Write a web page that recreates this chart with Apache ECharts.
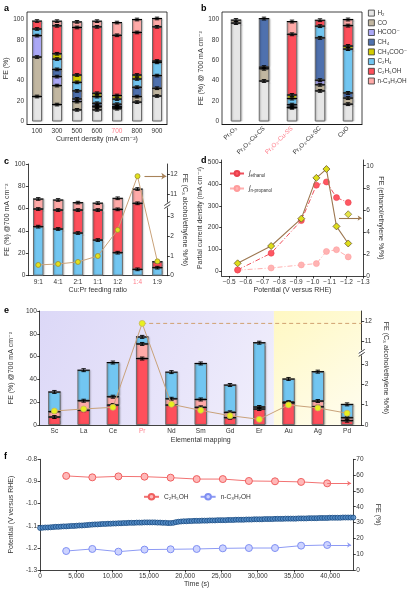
<!DOCTYPE html>
<html>
<head>
<meta charset="utf-8">
<script src="https://cdn.jsdelivr.net/npm/echarts@6.0.0/dist/echarts.min.js"></script>
<style>html,body{margin:0;padding:0;background:#fff;}#chart{width:408px;height:589px;}</style>
</head>
<body>
<div id="chart"></div>
<script>
// ===================== DATA =====================
const LEGEND_ORDER = ['H₂','CO','HCOO⁻','CH₄','CH₃COO⁻','C₂H₄','C₂H₅OH','n-C₃H₇OH'];
const STACK_ORDER  = ['H₂','CO','HCOO⁻','CH₄','C₂H₄','CH₃COO⁻','C₂H₅OH','n-C₃H₇OH'];

// panel a : FE vs current density
const aCats    = ['100','300','500','600','700','800','900'];
const aH2      = [24.5,16.6,11.4,11.4,12.5,19.0,25.0];
const aCO      = [38.7,18.6, 8.1, 2.9, 1.5, 5.4, 7.6];
const aHCOO    = [21.0, 8.8, 2.6, 0.8, 0.5, 0,   0  ];
const aCH4     = [0,    7.1, 7.9, 2.8, 2.5, 9.2,12.4];
const aC2H4    = [6.5, 10.1, 8.4, 6.5, 5.0, 8.1,13.0];
const aCH3COO  = [0,    5.2, 7.2, 3.3, 3.5, 3.9, 1.3];
const aEtOH    = [7.8, 27.4,46.6,65.1,59.0,41.7,33.5];
const aPrOH    = [0,    4.6, 5.5, 5.6,12.5,12.7, 8.2];
const aErr     = 1.3;

// panel b : catalysts @700 mA cm-2
const bCats    = ['Pr₂O₃','Pr₂O₃-Cu-CS','Pr₂O₃-Cu-SS','Pr₂O₃-Cu-SC','CuO'];
const bH2      = [96.5,39.7,13.5,30.0,17.0];
const bCO      = [ 3.0,12.0, 0.5, 6.0, 6.0];
const bHCOO    = [ 0,   1.6, 0,   4.5, 0  ];
const bCH4     = [ 0,  47.6, 2.5,41.5, 5.0];
const bC2H4    = [ 0,   0,   6.0,11.5,43.0];
const bCH3COO  = [ 0,   0,   3.5, 0,   3.0];
const bEtOH    = [ 0,   0,  59.5, 5.8,20.0];
const bPrOH    = [ 0,   0,  12.5, 0,   6.0];
const bErr     = 1.4;

// panel c : Cu:Pr feeding ratio
const cCats    = ['9:1','4:1','2:1','1:1','1:2','1:4','1:9'];
const cC2H4    = [43.9,41.8,38.2,31.9,20.6, 5.7, 7.2];
const cEtOH    = [15.8,17.0,20.6,26.9,38.8,59.1, 5.3];
const cPrOH    = [ 9.0, 9.0, 6.6, 6.2, 9.9,12.8, 0  ];
const cRatio   = [0.54,0.59,0.69,0.99,2.30,11.9,0.72];
const cErr     = 1.2;

// panel d : potential dependence
const dPot     = [-0.55,-0.75,-0.93,-1.02,-1.08,-1.14,-1.21];
const dJEt     = [5, 82, 232, 395, 410, 338, 315];
const dJPr     = [4, 14, 28, 34, 90, 98, 65];
const dRatio   = [1.15,2.72,5.20,8.90,9.70,4.50,2.95];

// panel e : elemental mapping
const eCats    = ['Sc','La','Ce','Pr','Nd','Sm','Gd','Er','Au','Ag','Pd'];
const eEtOH    = [ 7.0,13.0,17.5,58.3,17.5,15.5, 6.4,14.0,19.3,16.0, 3.8];
const ePrOH    = [ 4.7, 8.3, 7.3,12.8, 5.5, 6.9, 4.7, 1.8, 0.8, 5.0, 2.6];
const eC2H4    = [17.3,26.8,30.0, 6.2,23.4,31.6,24.0,56.4,20.3,25.8,11.7];
const eRatio   = [0.69,0.79,0.87,11.9,1.02,0.72,0.46,0.28,0.99,0.84,0.58];
const eErr     = 1.3;
const eRegions = [[0, 8, 'lanthanide'], [8, 11, 'noble']];

// panel f : stability
const fTimes   = [3600,7200,10800,14400,18000,21600,25200,28800,32400,36000,39600];
const fEtOH    = [59.5,58.6,59.2,59.0,58.4,57.5,57.5,56.3,56.1,55.7,54.8];
const fPrOH    = [12.0,13.3,11.6,12.9,13.1,13.3,13.7,13.9,13.9,15.4,15.8];
const fPotStep = 360;
const fPotential = [
 -1.110,-1.109,-1.108,-1.108,-1.107,-1.106,-1.105,-1.105,-1.104,-1.103,-1.103,-1.102,-1.101,-1.101,
 -1.100,-1.099,-1.099,-1.098,-1.097,-1.096,-1.095,-1.094,-1.094,-1.093,-1.092,-1.092,-1.091,-1.091,
 -1.090,-1.090,-1.089,-1.089,-1.088,-1.088,-1.087,-1.087,-1.087,-1.086,-1.086,-1.086,-1.085,-1.085,
 -1.085,-1.085,-1.085,-1.086,-1.086,-1.087,-1.087,-1.088,-1.088,-1.087,-1.084,-1.082,-1.081,-1.080,
 -1.080,-1.079,-1.079,-1.078,-1.078,-1.078,-1.077,-1.077,-1.077,-1.076,-1.076,-1.076,-1.075,-1.075,
 -1.075,-1.075,-1.074,-1.074,-1.074,-1.073,-1.073,-1.073,-1.073,-1.072,-1.072,-1.072,-1.071,-1.071,
 -1.071,-1.071,-1.070,-1.070,-1.070,-1.070,-1.069,-1.069,-1.069,-1.069,-1.068,-1.068,-1.068,-1.068,
 -1.068,-1.067,-1.067,-1.067,-1.067,-1.066,-1.066,-1.066,-1.066,-1.065,-1.065,-1.065,-1.065,-1.064,
 -1.064,-1.064,-1.064,-1.064,-1.063,-1.063,-1.063,-1.063,-1.063];

// tick labels
const pctTicks   = [0,20,40,60,80,100];
const brkTicks   = [0,1,2,3,11,12];
const dPotTicks  = [-0.5,-0.6,-0.7,-0.8,-0.9,-1.0,-1.1,-1.2,-1.3];
const dJTicks    = [0,100,200,300,400,500];
const dRTicks    = [0,2,4,6,8,10];
const fTimeTicks = [0,5000,10000,15000,20000,25000,30000,35000,40000];
const fPotTicks  = [-1.3,-1.2,-1.1,-1.0,-0.9,-0.8];

// ===================== STYLE =====================
const FONT = '"Liberation Sans", Arial, "DejaVu Sans", sans-serif';
const TXT = '#333';
const PINK_TXT = '#ff7d8a';
const COLORS = {'H₂':'#e6e6e6','CO':'#c2b7a1','HCOO⁻':'#aba8f6','CH₄':'#4f71ae','CH₃COO⁻':'#d3cc00',
  'C₂H₄':'#72c6f1','C₂H₅OH':'#fe4f5b','n-C₃H₇OH':'#ffaaa8'};

// broken right axis (0..3.x linear, then 11..12)
const BRK_LO = 3.6, BRK_SHIFT = 11 - 4.1;
const brk   = v => v <= BRK_LO ? v : v - BRK_SHIFT;
const unbrk = d => d <= BRK_LO ? d : d + BRK_SHIFT;

function merge(a, b) {
  const o = Object.assign({}, a);
  for (const k in b) {
    const v = b[k];
    if (v && typeof v === 'object' && !Array.isArray(v) && o[k] && typeof o[k] === 'object' && !Array.isArray(o[k])) o[k] = merge(o[k], v);
    else o[k] = v;
  }
  return o;
}
const AX = {
  axisLine: {onZero:false, lineStyle:{color:'#111', width:0.8}},
  axisTick: {length:2.5, lineStyle:{color:'#111', width:0.8}},
  axisLabel: {fontSize:6.5, color:TXT, fontFamily:FONT, margin:3},
  splitLine: {show:false},
  nameLocation: 'middle',
  nameTextStyle: {fontSize:7, color:TXT, fontFamily:FONT}
};
const ax = o => merge(AX, o);

function stackedBars(order, seg, xi, yi, stack, bw) {
  return order.map(n => ({
    type:'bar', name:n, stack, xAxisIndex:xi, yAxisIndex:yi, barWidth:bw, z:2,
    data: seg[n].map(v => v > 0 ? v : null),
    itemStyle:{color:COLORS[n], borderColor:'#6b6b6b', borderWidth:1,
      shadowColor:'rgba(0,0,0,0.25)', shadowBlur:1.5, shadowOffsetX:1},
    emphasis:{disabled:true}
  }));
}
function errPoints(order, seg, err) {
  const pts = [];
  const n = seg[order[0]].length;
  for (let i = 0; i < n; i++) {
    let c = 0;
    order.forEach(k => { const v = seg[k][i]; if (v > 0) { c += v; pts.push([i, c, err]); } });
  }
  return pts;
}
function errSeries(xi, yi, pts, half) {
  return {
    type:'custom', xAxisIndex:xi, yAxisIndex:yi, z:6, silent:true, encode:{x:0, y:1},
    renderItem:(p, api) => {
      const x = api.value(0), y = api.value(1), e = api.value(2);
      const c = api.coord([x, y]), lo = api.coord([x, y - e]), hi = api.coord([x, y + e]);
      const st = {stroke:'#000', lineWidth:0.9};
      return {type:'group', children:[
        {type:'line', shape:{x1:c[0]-half, y1:c[1], x2:c[0]+half, y2:c[1]}, style:{stroke:'#000', lineWidth:1.1}},
        {type:'line', shape:{x1:c[0], y1:lo[1], x2:c[0], y2:hi[1]}, style:st},
        {type:'line', shape:{x1:c[0]-2.2, y1:lo[1], x2:c[0]+2.2, y2:lo[1]}, style:st},
        {type:'line', shape:{x1:c[0]-2.2, y1:hi[1], x2:c[0]+2.2, y2:hi[1]}, style:st}
      ]};
    },
    data: pts
  };
}

const aSeg = {'H₂':aH2,'CO':aCO,'HCOO⁻':aHCOO,'CH₄':aCH4,'C₂H₄':aC2H4,'CH₃COO⁻':aCH3COO,'C₂H₅OH':aEtOH,'n-C₃H₇OH':aPrOH};
const bSeg = {'H₂':bH2,'CO':bCO,'HCOO⁻':bHCOO,'CH₄':bCH4,'C₂H₄':bC2H4,'CH₃COO⁻':bCH3COO,'C₂H₅OH':bEtOH,'n-C₃H₇OH':bPrOH};
const cOrder = ['C₂H₄','C₂H₅OH','n-C₃H₇OH'];
const cSeg = {'C₂H₄':cC2H4,'C₂H₅OH':cEtOH,'n-C₃H₇OH':cPrOH};
const eOrder = ['C₂H₅OH','n-C₃H₇OH','C₂H₄'];
const eSeg = {'C₂H₅OH':eEtOH,'n-C₃H₇OH':ePrOH,'C₂H₄':eC2H4};

const brkAxisLabel = {customValues: brkTicks.map(brk), formatter: v => String(Math.round(unbrk(v)))};

const option = {
  animation:false,
  textStyle:{fontFamily:FONT},
  grid:[
    {left:27,    top:12,    width:140,   height:112.5, show:true, borderColor:'#111', borderWidth:0.8},
    {left:222,   top:12,    width:140,   height:112.5, show:true, borderColor:'#111', borderWidth:0.8},
    {left:28.3,  top:164,   width:139,   height:111.7},
    {left:221.7, top:160,   width:141.6, height:116},
    {left:28.3,  top:311,   width:333.4, height:114},
    {left:27.7,  top:459.3, width:325.6, height:110.7}
  ],
  xAxis:[
    ax({type:'category', gridIndex:0, data:aCats, axisTick:{alignWithLabel:true},
        axisLabel:{color:v => v === '700' ? PINK_TXT : TXT}, name:'Current density (mA cm⁻²)', nameGap:11}),
    ax({type:'category', gridIndex:1, data:bCats, axisTick:{alignWithLabel:true},
        axisLabel:{rotate:45, margin:3, fontSize:6.2, color:v => v === 'Pr₂O₃-Cu-SS' ? PINK_TXT : TXT}}),
    ax({type:'category', gridIndex:2, data:cCats, axisTick:{alignWithLabel:true},
        axisLabel:{color:v => v === '1:4' ? PINK_TXT : TXT}, name:'Cu:Pr feeding ratio', nameGap:11}),
    ax({type:'value', gridIndex:3, inverse:true, min:-1.3, max:-0.455,
        axisTick:{customValues:dPotTicks}, axisLabel:{customValues:dPotTicks, formatter:v => v.toFixed(1).replace('-', '−')},
        name:'Potential (V versus RHE)', nameGap:11}),
    ax({type:'category', gridIndex:4, data:eCats, axisTick:{alignWithLabel:true},
        axisLabel:{color:v => v === 'Pr' ? PINK_TXT : TXT}, name:'Elemental mapping', nameGap:12}),
    ax({type:'value', gridIndex:5, min:0, max:43200,
        axisTick:{customValues:fTimeTicks}, axisLabel:{customValues:fTimeTicks, formatter:v => v.toLocaleString('en-US')},
        name:'Time (s)', nameGap:11}),
    {type:'value', gridIndex:2, min:0, max:cCats.length, show:false},
    {type:'value', gridIndex:4, min:0, max:eCats.length, show:false}
  ],
  yAxis:[
    ax({type:'value', gridIndex:0, min:-2.94, max:107.35, axisTick:{customValues:pctTicks}, axisLabel:{customValues:pctTicks},
        name:'FE (%)', nameGap:14}),
    ax({type:'value', gridIndex:1, min:-2.94, max:107.35, axisTick:{customValues:pctTicks}, axisLabel:{customValues:pctTicks},
        name:'FE (%) @ 700 mA cm⁻²', nameGap:14}),
    ax({type:'value', gridIndex:2, min:0, max:100, interval:20, name:'FE (%) @700 mA cm⁻²', nameGap:16}),
    ax({type:'value', gridIndex:2, position:'right', min:0, max:5.61,
        axisTick:{customValues:brkTicks.map(brk)}, axisLabel:brkAxisLabel,
        name:'FE (C₃ alcohol/ethylene %/%)', nameRotate:-90, nameGap:12}),
    ax({type:'value', gridIndex:3, min:-23, max:511, axisTick:{customValues:dJTicks}, axisLabel:{customValues:dJTicks},
        name:'Partial current density (mA cm⁻²)', nameGap:14}),
    ax({type:'value', gridIndex:3, position:'right', min:0, max:10.52, axisTick:{customValues:dRTicks}, axisLabel:{customValues:dRTicks},
        name:'FE (ethanol/ethylene %/%)', nameRotate:-90, nameGap:14}),
    ax({type:'value', gridIndex:4, min:0, max:100, interval:20, name:'FE (%) @700 mA cm⁻²', nameGap:16}),
    ax({type:'value', gridIndex:4, position:'right', min:0, max:5.61,
        axisTick:{customValues:brkTicks.map(brk)}, axisLabel:brkAxisLabel,
        name:'FE (C₃ alcohol/ethylene %/%)', nameRotate:-90, nameGap:12}),
    ax({type:'value', gridIndex:5, min:-1.3, max:-0.8, axisTick:{customValues:fPotTicks},
        axisLabel:{customValues:fPotTicks, formatter:v => v.toFixed(1)}, name:'Potential (V versus RHE)', nameGap:18}),
    ax({type:'value', gridIndex:5, position:'right', min:0, max:70, interval:10, name:'FE (%)', nameRotate:-90, nameGap:12})
  ],
  legend:[
    {data:LEGEND_ORDER, orient:'vertical', left:368, top:9.5, padding:0, itemWidth:6, itemHeight:6, itemGap:2.5,
     icon:'rect', selectedMode:false, itemStyle:{borderColor:'#333', borderWidth:0.8},
     textStyle:{fontSize:6.4, lineHeight:7.2, color:TXT, fontFamily:FONT, padding:[0,0,0,-2]}},
    {data:['jEt','jPr'], orient:'vertical', left:229, top:170, padding:0, itemWidth:14, itemHeight:6, itemGap:7, selectedMode:false,
     formatter:n => n === 'jEt' ? '{i|j}{s|ethanol}' : '{i|j}{s|n-propanol}',
     textStyle:{color:TXT, fontFamily:FONT, rich:{i:{fontSize:7, fontStyle:'italic', color:TXT}, s:{fontSize:4.5, color:TXT, padding:[4,0,0,0]}}}},
    {data:['fEt','fPr'], orient:'horizontal', left:143, top:493, padding:0, itemWidth:15, itemHeight:7, itemGap:11, selectedMode:false,
     formatter:n => n === 'fEt' ? 'C₂H₅OH' : 'n-C₃H₇OH',
     textStyle:{fontSize:6.6, color:TXT, fontFamily:FONT}}
  ],
  series:[]
};

const S = option.series;
// a
S.push(...stackedBars(STACK_ORDER, aSeg, 0, 0, 'a', 10));
S.push(errSeries(0, 0, errPoints(STACK_ORDER, aSeg, aErr), 5));
// b
S.push(...stackedBars(STACK_ORDER, bSeg, 1, 1, 'b', 10.5));
S.push(errSeries(1, 1, errPoints(STACK_ORDER, bSeg, bErr), 5.25));
// c
S.push(...stackedBars(cOrder, cSeg, 2, 2, 'c', 10.5));
S.push(errSeries(2, 2, errPoints(cOrder, cSeg, cErr), 5.25));
S.push({type:'line', name:'cRatio', xAxisIndex:2, yAxisIndex:3, z:7, data:cRatio.map(brk),
  symbol:'circle', symbolSize:5, lineStyle:{color:'#c9a27a', width:1},
  itemStyle:{color:'#e2e21c', borderColor:'#9a8e35', borderWidth:0.8}});
S.push({type:'scatter', xAxisIndex:6, yAxisIndex:3, symbolSize:0, data:[[cCats.indexOf('1:4') + 0.5, brk(cRatio[5])]],
  markLine:{silent:true, symbol:['none','arrow'], symbolSize:5, label:{show:false},
    lineStyle:{color:'#a8835a', width:1.1, type:'solid'},
    data:[[{coord:[5.85, brk(cRatio[5])]}, {coord:[6.95, brk(cRatio[5])]}]]}});
// d
S.push({type:'line', name:'jEt', xAxisIndex:3, yAxisIndex:4, z:4, data:dPot.map((p,i)=>[p, dJEt[i]]),
  symbol:'circle', symbolSize:6, lineStyle:{color:'#f0505c', width:1, type:[5,2,1,2]},
  itemStyle:{color:'#ff5762', borderColor:'#e8404c', borderWidth:0.6}});
S.push({type:'line', name:'jPr', xAxisIndex:3, yAxisIndex:4, z:3, data:dPot.map((p,i)=>[p, dJPr[i]]),
  symbol:'circle', symbolSize:6, lineStyle:{color:'#ffb0b0', width:1, type:[5,2,1,2]},
  itemStyle:{color:'#ffb3b3', borderColor:'#ff9c9c', borderWidth:0.6}});
S.push({type:'line', name:'dRatio', xAxisIndex:3, yAxisIndex:5, z:5, data:dPot.map((p,i)=>[p, dRatio[i]]),
  symbol:'diamond', symbolSize:7, lineStyle:{color:'#9c7750', width:1.1},
  itemStyle:{color:'#dede1a', borderColor:'#6d5a2c', borderWidth:0.8}});
S.push({type:'scatter', xAxisIndex:3, yAxisIndex:5, z:5, data:[[dPot[6], 5.6]], symbol:'diamond', symbolSize:7,
  itemStyle:{color:'#dede1a', borderColor:'#6d5a2c', borderWidth:0.8},
  markLine:{silent:true, symbol:['none','arrow'], symbolSize:4, label:{show:false},
    lineStyle:{color:'#9c7750', width:1.1, type:'solid'},
    data:[[{coord:[-1.155, 5.25]}, {coord:[-1.29, 5.25]}]]}});
// e background
S.push({type:'custom', xAxisIndex:7, yAxisIndex:7, z:0, silent:true, encode:{x:[0,1]},
  data:eRegions.map(r => [r[0], r[1], r[2] === 'noble' ? 1 : 0]),
  renderItem:(p, api) => {
    const a = api.coord([api.value(0), 5.61]), b = api.coord([api.value(1), 0]);
    const noble = api.value(2) === 1;
    const fill = noble
      ? new echarts.graphic.LinearGradient(0,0,1,1,[{offset:0,color:'#fff8c2'},{offset:1,color:'#fffdf0'}])
      : new echarts.graphic.LinearGradient(0,0,1,1,[{offset:0,color:'#dcd8f7'},{offset:0.6,color:'#e8e5fa'},{offset:1,color:'#f1effc'}]);
    return {type:'rect', shape:{x:a[0], y:a[1], width:b[0]-a[0], height:b[1]-a[1]}, style:{fill}};
  }});
S.push(...stackedBars(eOrder, eSeg, 4, 6, 'e', 12.5));
S.push(errSeries(4, 6, errPoints(eOrder, eSeg, eErr), 6.25));
S.push({type:'line', name:'eRatio', xAxisIndex:4, yAxisIndex:7, z:7, data:eRatio.map(brk),
  symbol:'circle', symbolSize:6, lineStyle:{color:'#c9a27a', width:1},
  itemStyle:{color:'#e8f01e', borderColor:'#c8b860', borderWidth:0.8}});
S.push({type:'line', xAxisIndex:7, yAxisIndex:7, z:6, symbol:'none',
  data:[[eCats.indexOf('Pr') + 0.5, brk(eRatio[3])], [eCats.length, brk(eRatio[3])]],
  lineStyle:{color:'#d0a070', width:1, type:[4,3]}});
// f
S.push({type:'scatter', name:'fPot', xAxisIndex:5, yAxisIndex:8, z:3, symbol:'circle', symbolSize:5,
  data:fPotential.map((v,i) => [i * fPotStep, v]),
  itemStyle:{color:'#4f88c4', borderColor:'#174a82', borderWidth:1}});
S.push({type:'line', name:'fEt', xAxisIndex:5, yAxisIndex:9, z:4, data:fTimes.map((t,i)=>[t, fEtOH[i]]),
  symbol:'circle', symbolSize:7, lineStyle:{color:'#f27272', width:1},
  itemStyle:{color:'#ffb8b8', borderColor:'#ef5f5f', borderWidth:1},
  markLine:{silent:true, symbol:['none','arrow'], symbolSize:4, label:{show:false},
    lineStyle:{color:'#f27272', width:1, type:'solid'},
    data:[[{coord:[fTimes[10], fEtOH[10]]}, {coord:[42900, fEtOH[10]]}]]}});
S.push({type:'line', name:'fPr', xAxisIndex:5, yAxisIndex:9, z:4, data:fTimes.map((t,i)=>[t, fPrOH[i]]),
  symbol:'circle', symbolSize:7, lineStyle:{color:'#8e9bf4', width:1},
  itemStyle:{color:'#cdd3ff', borderColor:'#7f8ff2', borderWidth:1},
  markLine:{silent:true, symbol:['none','arrow'], symbolSize:4, label:{show:false},
    lineStyle:{color:'#8e9bf4', width:1, type:'solid'},
    data:[[{coord:[fTimes[10], fPrOH[10]]}, {coord:[42900, fPrOH[10]]}]]}});

const chart = echarts.init(document.getElementById('chart'), null, {renderer:'canvas'});
chart.setOption(option);

// panel letters + axis-break marks
const letters = [['a',4,4],['b',201,4],['c',4,157],['d',201,156],['e',4,306],['f',4,452]];
const g = letters.map(([t,x,y]) => ({type:'text', left:x, top:y, z:100,
  style:{text:t, fontSize:9, fontWeight:'bold', fill:'#000', fontFamily:FONT}}));
[[3, 2], [7, 4]].forEach(([yi, gi]) => {
  const y = chart.convertToPixel({yAxisIndex:yi}, 3.55);
  const x = option.grid[gi].left + option.grid[gi].width;
  g.push({type:'rect', z:100, shape:{x:x-3, y:y-2.5, width:6, height:5}, style:{fill:'#fff'}});
  g.push({type:'line', z:101, shape:{x1:x-3, y1:y+0.5, x2:x+3, y2:y-3.5}, style:{stroke:'#111', lineWidth:0.8}});
  g.push({type:'line', z:101, shape:{x1:x-3, y1:y+3.5, x2:x+3, y2:y-0.5}, style:{stroke:'#111', lineWidth:0.8}});
});
chart.setOption({graphic:g});
</script>
</body>
</html>
